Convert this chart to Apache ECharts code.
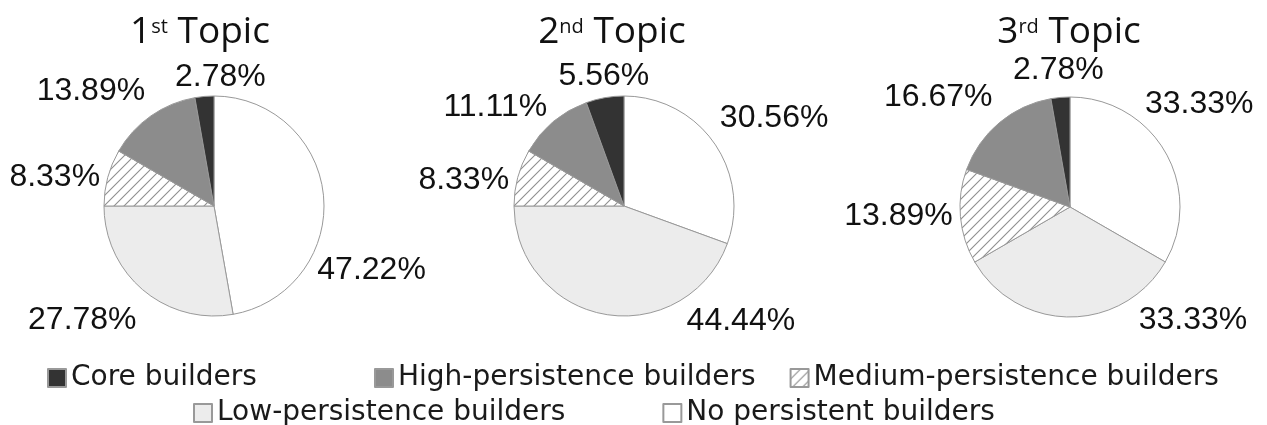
<!DOCTYPE html>
<html>
<head>
<meta charset="utf-8">
<script src="https://cdn.jsdelivr.net/npm/echarts@6/dist/echarts.min.js"></script>
<style>
  html, body { margin: 0; padding: 0; background: #fff; }
  #chart { width: 1267px; height: 425px; }
</style>
</head>
<body>
<div id="chart"></div>
<script>
// slices go clockwise from 12 o'clock in this order
const categories = [
  "No persistent builders",
  "Low-persistence builders",
  "Medium-persistence builders",
  "High-persistence builders",
  "Core builders"
];
const topicNumbers = ["1", "2", "3"];
const topicSuffixes = ["st", "nd", "rd"];
const topic1Shares = [47.22, 27.78, 8.33, 13.89, 2.78];
const topic2Shares = [30.56, 44.44, 8.33, 11.11, 5.56];
const topic3Shares = [33.33, 33.33, 13.89, 16.67, 2.78];

const legendRows = [
  ["Core builders"],
  ["High-persistence builders", "Medium-persistence builders"],
  ["Low-persistence builders", "No persistent builders"]
];

// layout / style
const pieCenters = [[214, 206], [624, 206], [1070, 207]];
const pieRadius = 110;
const titleCenters = [200, 612, 1069];
// label shift from the default outside anchor, per topic, per slice
const labelNudges = [
  [[43, 74], [-56, 30], [-48, 0], [-55, -25], [21, -19]],
  [[55, -25], [141, 7], [-49, 3], [-53, -15], [4, -22]],
  [[29, -48], [118, 3], [-57, 0], [-56, -26], [3, -27]]
];

function hatchPattern() {
  const size = 10;
  const canvas = document.createElement("canvas");
  canvas.width = size;
  canvas.height = size;
  const ctx = canvas.getContext("2d");
  ctx.fillStyle = "#ffffff";
  ctx.fillRect(0, 0, size, size);
  ctx.strokeStyle = "#8f8f8f";
  ctx.lineWidth = 1.1;
  ctx.beginPath();
  ctx.moveTo(-1, size + 1);
  ctx.lineTo(size + 1, -1);
  ctx.moveTo(-1, 1);
  ctx.lineTo(1, -1);
  ctx.moveTo(size - 1, size + 1);
  ctx.lineTo(size + 1, size - 1);
  ctx.stroke();
  return canvas;
}

const sliceColors = [
  "#ffffff",
  "#ececec",
  { image: hatchPattern(), repeat: "repeat" },
  "#8c8c8c",
  "#333333"
];

const chart = echarts.init(document.getElementById("chart"), null, { renderer: "canvas" });

const allShares = [topic1Shares, topic2Shares, topic3Shares];

const option = {
  animation: false,
  backgroundColor: "#ffffff",
  title: topicNumbers.map((num, i) => ({
    text: `{main|${num}}{sup|${topicSuffixes[i]}}{main| Topic}`,
    left: titleCenters[i] - 5,
    top: 5,
    textAlign: "center",
    textStyle: {
      fontWeight: "normal",
      rich: {
        main: { fontFamily: "Open Sans", fontSize: 37, fontWeight: "normal", color: "#111111", lineHeight: 44 },
        sup: {
          fontFamily: "Open Sans", fontSize: 20, fontWeight: "normal", color: "#111111",
          lineHeight: 24, verticalAlign: "top", padding: [7, 0, 0, 0]
        }
      }
    }
  })),
  legend: [
    { left: 47, itemGap: 30 },
    { left: 374, itemGap: 34 },
    { left: 193, itemGap: 97 }
  ].map((pos, r) => ({
    data: legendRows[r],
    left: pos.left,
    top: r === 2 ? 399 : 364,
    itemGap: pos.itemGap,
    itemWidth: 18,
    itemHeight: 18,
    icon: "rect",
    selectedMode: false,
    padding: 0,
    textStyle: { fontFamily: "DejaVu Sans", fontSize: 28, color: "#1a1a1a" }
  })),
  series: allShares.map((shares, i) => ({
    type: "pie",
    center: pieCenters[i],
    radius: pieRadius,
    startAngle: 90,
    clockwise: true,
    avoidLabelOverlap: false,
    emphasis: { disabled: true },
    itemStyle: { borderColor: "#999999", borderWidth: 1 },
    label: {
      show: true,
      position: "outside",
      formatter: (p) => p.value.toFixed(2) + "%",
      fontFamily: "Liberation Sans",
      fontSize: 32,
      color: "#111111",
      distanceToLabelLine: 5
    },
    labelLine: { show: false, length: 0, length2: 0 },
    labelLayout: (p) => ({
      dx: labelNudges[i][p.dataIndex][0],
      dy: labelNudges[i][p.dataIndex][1],
      align: "center",
      verticalAlign: "middle"
    }),
    data: categories.map((name, k) => ({
      name,
      value: shares[k],
      itemStyle: { color: sliceColors[k] }
    }))
  }))
};

chart.setOption(option);
</script>
</body>
</html>
